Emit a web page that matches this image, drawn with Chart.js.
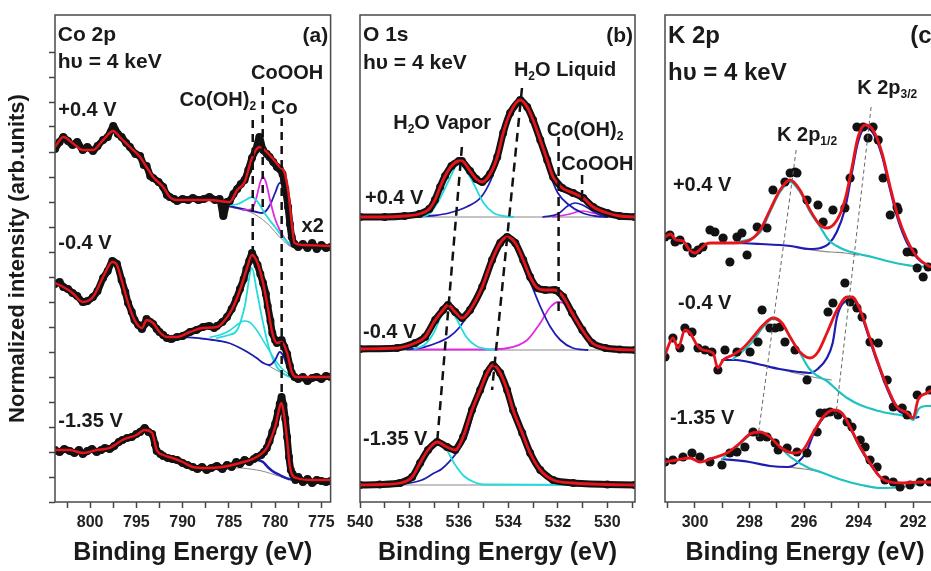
<!DOCTYPE html>
<html>
<head>
<meta charset="utf-8">
<script src="https://cdn.jsdelivr.net/npm/chart.js@4.4.1/dist/chart.umd.min.js"></script>
<style>
  body { margin: 0; background: #fff; width: 931px; height: 571px; overflow: hidden; position: relative; }
  canvas { position: absolute; top: 0; }
</style>
</head>
<body>
<canvas id="chartA" width="340" height="571" style="left:0"></canvas>
<canvas id="chartB" width="310" height="571" style="left:340px"></canvas>
<canvas id="chartC" width="300" height="571" style="left:650px"></canvas>
<script>
// ---- Panel (a) Co 2p : [binding energy eV, intensity] ----
const coTopData = [[803.8,7.06],[803.3,7.20],[802.9,7.30],[802.4,7.22],[801.9,7.14],[801.4,7.20],[800.8,7.04],[800.3,7.10],[799.7,7.02],[799.2,7.12],[798.6,7.24],[798.1,7.30],[797.5,7.52],[797.0,7.36],[796.6,7.30],[796.1,7.18],[795.7,7.10],[795.1,6.96],[794.6,6.92],[794.2,6.74],[793.9,6.72],[793.5,6.52],[793.2,6.48],[792.6,6.40],[792.1,6.30],[791.7,6.14],[791.4,6.10],[790.9,6.06],[790.6,6.02],[790.0,6.06],[789.4,6.04],[788.9,6.08],[788.3,6.04],[787.7,6.06],[787.1,6.10],[786.5,6.04],[786.0,6.06],[785.6,5.72],[785.2,6.00],[784.9,6.02],[784.5,6.16],[784.1,6.26],[783.7,6.36],[783.3,6.44],[782.9,6.64],[782.5,6.88],[782.1,7.04],[781.7,7.30],[781.3,7.04],[780.9,6.96],[780.6,6.90],[780.2,6.80],[779.8,6.70],[779.5,6.66],[779.2,6.56],[778.9,6.26],[778.6,5.90],[778.4,5.56],[778.2,5.30],[777.9,5.16],[777.5,5.10],[777.0,5.16],[776.5,5.08],[776.0,5.18],[775.5,5.06],[775.0,5.14],[774.5,5.08],[774.0,5.10]];
const coTopFit = [[803.8,7.10],[802.9,7.30],[801.9,7.18],[800.8,7.04],[799.7,7.04],[798.6,7.24],[797.5,7.42],[796.8,7.30],[795.7,7.10],[794.6,6.90],[793.9,6.70],[793.2,6.50],[792.1,6.30],[791.4,6.10],[790.6,6.04],[788.9,6.04],[787.1,6.04],[784.9,6.00],[784.1,6.24],[783.3,6.40],[782.5,6.88],[781.7,7.10],[780.6,6.94],[779.5,6.70],[779.0,6.60],[778.6,6.24],[778.2,5.58],[777.9,5.18],[777.0,5.14],[774.0,5.12]];
const coTopBg = [[786.0,5.98],[784.9,5.90],[782.7,5.80],[780.9,5.58],[779.2,5.24],[778.1,5.10],[776.0,5.10]];
const coTopOH = [[786.0,5.98],[785.0,5.94],[784.0,5.96],[783.2,6.04],[782.5,6.10],[781.8,5.98],[781.0,5.74],[780.0,5.50],[779.0,5.26],[778.0,5.12],[777.0,5.10]];
const coTopOOH = [[783.5,5.84],[782.5,5.86],[782.0,6.10],[781.6,6.40],[781.3,6.50],[781.0,6.40],[780.5,6.00],[780.0,5.66],[779.5,5.44],[779.0,5.28],[778.5,5.16],[778.0,5.11]];
const coTopMetal = [[785.0,5.92],[784.0,5.88],[783.0,5.84],[782.0,5.80],[781.5,5.78],[781.0,5.82],[780.5,5.96],[780.0,6.18],[779.5,6.38],[779.2,6.36],[778.9,6.10],[778.5,5.60],[778.2,5.26],[777.8,5.12]];

const coMidData = [[803.8,4.36],[803.3,4.40],[802.9,4.30],[802.4,4.26],[801.9,4.18],[801.4,4.12],[800.8,4.00],[800.3,4.02],[799.7,4.10],[799.2,4.22],[798.6,4.48],[798.1,4.62],[797.6,4.82],[797.1,4.76],[796.6,4.44],[796.2,4.20],[795.9,3.98],[795.5,3.80],[795.2,3.64],[794.8,3.54],[794.4,3.46],[794.1,3.56],[793.9,3.66],[793.5,3.60],[793.2,3.56],[792.8,3.46],[792.5,3.40],[792.1,3.34],[791.7,3.28],[791.2,3.26],[790.6,3.30],[790.0,3.32],[789.2,3.40],[788.5,3.44],[787.8,3.50],[787.1,3.52],[786.6,3.48],[786.3,3.52],[785.7,3.60],[785.2,3.70],[784.7,3.86],[784.2,4.06],[783.8,4.26],[783.4,4.46],[783.1,4.66],[782.8,4.82],[782.5,4.98],[782.2,4.86],[781.9,4.74],[781.6,4.56],[781.3,4.38],[781.0,4.16],[780.8,3.92],[780.5,3.62],[780.3,3.38],[780.0,3.24],[779.8,3.18],[779.5,3.22],[779.3,3.24],[779.0,3.10],[778.7,2.96],[778.4,2.72],[778.2,2.58],[777.9,2.50],[777.5,2.46],[777.0,2.50],[776.5,2.42],[776.0,2.48],[775.5,2.50],[775.0,2.46],[774.5,2.52],[774.0,2.50]];
const coMidFit = [[803.8,4.38],[802.9,4.30],[801.9,4.18],[800.8,4.00],[799.7,4.10],[798.6,4.50],[797.6,4.80],[797.1,4.74],[796.6,4.44],[795.9,3.98],[795.2,3.64],[794.4,3.48],[793.9,3.64],[793.2,3.58],[792.5,3.40],[791.7,3.30],[790.6,3.30],[789.2,3.40],[787.8,3.48],[786.3,3.50],[785.7,3.58],[784.7,3.84],[783.8,4.24],[783.1,4.64],[782.5,4.94],[781.9,4.78],[781.3,4.38],[780.8,3.90],[780.3,3.38],[779.8,3.18],[779.3,3.20],[778.7,2.98],[778.2,2.60],[777.7,2.50],[775.9,2.50],[774.0,2.50]];
const coMidBg = [[790.0,3.30],[788.0,3.27],[786.0,3.22],[785.0,3.18],[784.0,3.10],[783.0,3.00],[782.0,2.88],[781.0,2.76],[780.0,2.65],[779.0,2.56],[778.0,2.50],[776.0,2.50]];
const coMidMetal = [[790.0,3.30],[788.0,3.27],[786.0,3.22],[785.0,3.18],[784.0,3.10],[783.0,3.00],[782.0,2.88],[781.3,2.78],[780.6,2.74],[780.0,2.84],[779.5,3.00],[779.1,2.92],[778.6,2.66],[778.1,2.52],[777.5,2.50]];
const coMidOH = [[786.3,3.28],[785.0,3.34],[784.1,3.44],[783.3,3.90],[782.5,4.68],[782.0,4.24],[781.3,3.58],[780.6,3.04],[779.8,2.70],[779.2,2.58],[778.4,2.50]];
const coMidSat = [[787.0,3.30],[786.0,3.34],[785.0,3.42],[784.0,3.56],[783.4,3.62],[782.8,3.60],[782.0,3.44],[781.0,3.14],[780.0,2.84],[779.0,2.62],[778.0,2.52]];

const coBotData = [[803.8,1.04],[803.3,1.00],[802.8,1.06],[802.2,1.02],[801.7,0.98],[801.2,1.04],[800.8,0.96],[800.3,1.02],[799.8,1.06],[799.3,1.00],[798.8,1.04],[798.4,1.08],[797.9,1.06],[797.4,1.12],[796.9,1.20],[796.5,1.24],[796.0,1.28],[795.5,1.30],[795.0,1.36],[794.6,1.40],[794.1,1.48],[793.7,1.40],[793.3,1.36],[793.0,1.16],[792.8,1.02],[792.4,0.96],[792.1,0.92],[791.6,0.88],[791.1,0.86],[790.6,0.84],[790.0,0.78],[789.5,0.74],[788.9,0.70],[788.4,0.66],[787.9,0.70],[787.4,0.64],[786.9,0.68],[786.3,0.72],[785.7,0.66],[785.2,0.74],[784.7,0.70],[784.2,0.80],[783.8,0.76],[783.3,0.84],[782.8,0.80],[782.3,0.86],[782.0,0.90],[781.5,0.94],[781.2,1.00],[780.9,1.08],[780.6,1.22],[780.3,1.40],[780.0,1.56],[779.7,1.80],[779.5,1.96],[779.3,2.10],[779.1,1.94],[778.9,1.66],[778.7,1.30],[778.5,0.90],[778.3,0.64],[778.1,0.56],[777.8,0.44],[777.5,0.50],[777.0,0.40],[776.5,0.46],[776.0,0.38],[775.5,0.44],[775.0,0.42],[774.5,0.40],[774.0,0.42]];
const coBotFit = [[803.8,1.04],[802.2,1.04],[800.8,0.98],[799.3,1.04],[797.9,1.08],[796.5,1.24],[795.0,1.34],[794.1,1.44],[793.3,1.38],[792.8,1.04],[792.1,0.94],[791.1,0.88],[790.0,0.80],[788.9,0.70],[787.4,0.68],[785.7,0.70],[783.8,0.78],[782.0,0.90],[780.9,1.08],[780.0,1.50],[779.3,1.98],[779.0,1.70],[778.7,1.24],[778.4,0.70],[777.7,0.48],[776.0,0.44],[774.0,0.44]];
const coBotBg = [[786.0,0.68],[784.0,0.68],[782.0,0.64],[781.0,0.60],[780.0,0.54],[779.0,0.48],[778.0,0.45],[776.0,0.44]];
const coBotSat = [[786.0,0.68],[785.0,0.70],[784.0,0.74],[783.0,0.80],[782.0,0.84],[781.3,0.80],[780.8,0.70],[780.3,0.62],[779.5,0.54],[778.5,0.46],[777.5,0.44]];
// dashed markers: [eV start, value start, eV end, value end]
const coGuides = [[782.42,7.64,782.42,4.98],[781.34,8.30,781.34,5.84],[779.29,7.68,779.29,2.08]];

// ---- Panel (b) O 1s ----
const oTopFit = [[540.0,5.70],[539.0,5.70],[538.2,5.72],[537.6,5.76],[537.2,5.86],[536.97,6.04],[536.76,6.30],[536.56,6.52],[536.3,6.72],[536.0,6.82],[535.88,6.82],[535.55,6.62],[535.3,6.46],[535.06,6.40],[534.74,6.56],[534.45,6.90],[534.21,7.38],[533.93,7.78],[533.52,8.04],[533.24,7.90],[533.0,7.64],[532.71,7.24],[532.43,6.84],[532.19,6.50],[531.82,6.28],[531.38,6.18],[530.97,6.08],[530.57,5.90],[530.0,5.78],[529.5,5.72],[528.88,5.70]];
const oTopBase = [[540.0,5.70],[528.88,5.70]];
const oTopVapor = [[537.6,5.70],[537.2,5.76],[536.8,6.04],[536.4,6.44],[536.0,6.78],[535.7,6.62],[535.4,6.36],[535.0,5.98],[534.6,5.78],[534.2,5.72],[533.8,5.70]];
const oTopLiquid = [[538.0,5.70],[537.0,5.73],[536.4,5.78],[535.7,5.90],[535.1,6.10],[534.7,6.45],[534.45,6.82],[534.2,7.32],[533.9,7.74],[533.5,8.00],[533.2,7.86],[533.0,7.60],[532.7,7.16],[532.4,6.70],[532.2,6.40],[532.0,6.18],[531.6,5.96],[531.0,5.78],[530.5,5.72],[530.0,5.70]];
const oTopOH = [[532.6,5.70],[532.0,5.76],[531.6,5.92],[531.3,5.98],[531.0,5.94],[530.6,5.82],[530.2,5.72],[529.8,5.70]];
const oTopOOH = [[532.2,5.70],[531.6,5.75],[531.0,5.82],[530.5,5.77],[530.0,5.72],[529.5,5.70]];

const oMidFit = [[540.0,3.06],[538.5,3.08],[537.77,3.18],[537.37,3.30],[536.96,3.64],[536.64,3.84],[536.44,3.94],[536.15,3.80],[535.87,3.68],[535.55,3.84],[535.06,4.30],[534.66,4.84],[534.33,5.18],[534.05,5.30],[533.72,5.18],[533.4,4.84],[533.12,4.50],[532.83,4.28],[532.51,4.24],[532.11,4.24],[531.78,4.10],[531.42,3.78],[531.01,3.44],[530.61,3.18],[530.08,3.08],[529.5,3.05],[528.88,3.04]];
const oMidBase = [[540.0,3.04],[528.88,3.04]];
const oMidVapor = [[537.8,3.06],[537.4,3.14],[537.0,3.40],[536.7,3.74],[536.45,3.90],[536.1,3.66],[535.7,3.30],[535.3,3.12],[534.9,3.06],[534.5,3.04]];
const oMidLiquid = [[538.1,3.05],[537.4,3.10],[536.8,3.20],[536.4,3.30],[536.0,3.48],[535.5,3.86],[535.06,4.26],[534.66,4.80],[534.33,5.14],[534.05,5.26],[533.72,5.14],[533.5,4.84],[533.1,4.38],[532.7,3.90],[532.3,3.50],[531.9,3.24],[531.4,3.08],[530.8,3.04]];
const oMidOH = [[538.0,3.05],[535.0,3.05],[534.0,3.08],[533.24,3.24],[532.71,3.58],[532.3,3.90],[531.98,4.00],[531.7,3.96],[531.38,3.70],[530.97,3.38],[530.4,3.10],[529.8,3.04]];

const oBotFit = [[540.0,0.34],[539.2,0.35],[538.38,0.38],[537.89,0.50],[537.57,0.78],[537.25,1.04],[536.88,1.20],[536.48,1.10],[536.15,1.04],[535.83,1.30],[535.47,1.84],[535.14,2.24],[534.86,2.58],[534.62,2.74],[534.33,2.58],[534.05,2.24],[533.81,1.84],[533.44,1.38],[533.12,0.98],[532.71,0.64],[532.19,0.44],[531.38,0.38],[530.0,0.35],[528.88,0.34]];
const oBotBase = [[540.0,0.34],[528.88,0.34]];
const oBotVapor = [[538.4,0.35],[538.0,0.42],[537.6,0.64],[537.2,0.98],[536.9,1.16],[536.5,1.04],[536.2,0.78],[535.8,0.52],[535.4,0.40],[535.0,0.35],[530.0,0.34]];
const oBotLiquid = [[538.2,0.36],[537.5,0.44],[537.0,0.58],[536.7,0.66],[536.1,0.98],[535.7,1.30],[535.4,1.80],[535.1,2.22],[534.86,2.56],[534.62,2.72],[534.33,2.56],[534.05,2.22],[533.8,1.82],[533.44,1.36],[533.12,0.96],[532.7,0.62],[532.2,0.42],[531.4,0.36],[530.5,0.34]];
const oGuides = [[535.88,7.10,536.89,1.14],[533.45,8.28,534.66,2.24],[531.97,7.30,531.97,3.78],[531.02,6.54,531.02,5.94]];

// ---- Panel (c) K 2p ----
const kTopData = [[301.10,5.30],[300.92,5.34],[300.73,5.20],[300.55,5.24],[300.29,5.10],[300.07,4.98],[299.89,5.04],[299.71,5.10],[299.45,5.44],[299.27,5.40],[298.97,5.28],[298.72,4.80],[298.46,5.30],[298.28,5.38],[298.09,4.94],[297.72,5.50],[297.36,5.48],[297.14,6.24],[296.70,6.40],[296.51,6.58],[296.33,6.60],[296.26,6.58],[295.89,6.04],[295.49,5.94],[295.30,5.60],[294.94,5.84],[294.50,5.88],[294.31,6.48],[294.06,7.50],[293.83,7.50],[293.65,7.28],[293.47,7.50],[293.28,7.24],[293.10,6.48],[292.84,5.74],[292.59,5.90],[292.55,5.84],[292.22,5.00],[292.00,5.00],[291.85,4.68],[291.63,4.50],[291.45,4.70]];
const kTopFit = [[301.10,5.30],[300.9,5.36],[300.7,5.24],[300.44,5.22],[300.2,5.04],[300.0,4.98],[299.8,5.06],[299.6,5.16],[299.4,5.18],[298.61,5.18],[297.98,5.24],[297.61,5.44],[297.25,5.84],[296.88,6.24],[296.51,6.44],[296.15,6.24],[295.78,5.84],[295.41,5.54],[295.16,5.48],[294.79,5.64],[294.50,6.04],[294.24,6.70],[294.02,7.30],[293.76,7.54],[293.47,7.44],[293.14,6.98],[292.84,6.30],[292.55,5.70],[292.22,5.24],[291.85,4.90],[291.49,4.74],[291.34,4.70],[290.83,4.68]];
const kTopHalf = [[298.6,5.18],[297.6,5.40],[297.25,5.80],[296.88,6.20],[296.51,6.40],[296.15,6.20],[295.78,5.80],[295.41,5.50],[295.1,5.24],[294.8,5.12],[294.5,5.04],[294.0,4.96],[293.5,4.90],[292.8,4.80],[292.0,4.72],[291.3,4.70],[290.83,4.68]];
const kTopThree = [[299.5,5.18],[298.6,5.18],[297.6,5.16],[296.5,5.12],[295.8,5.06],[295.4,5.08],[295.1,5.16],[294.8,5.40],[294.5,5.86],[294.24,6.60],[294.02,7.20],[293.76,7.48],[293.47,7.38],[293.14,6.92],[292.84,6.24],[292.55,5.64],[292.22,5.18],[291.85,4.88],[291.5,4.74],[290.83,4.68]];
const kTopBg = [[296.0,5.06],[295.0,5.00],[294.5,4.98],[294.0,4.94]];

const kMidData = [[301.10,2.90],[300.81,3.28],[300.55,3.08],[300.37,3.48],[300.11,3.40],[299.89,3.08],[299.63,3.04],[299.38,3.00],[299.16,2.64],[298.90,3.04],[298.46,3.00],[297.98,3.00],[297.69,3.20],[297.54,3.84],[297.25,3.48],[297.06,3.48],[296.88,3.50],[296.70,3.20],[296.33,3.04],[295.89,2.44],[295.12,3.80],[294.94,3.98],[294.50,4.38],[294.31,4.00],[294.06,3.88],[293.87,3.70],[293.58,3.20],[293.28,3.18],[292.95,2.44],[292.73,1.90],[292.40,1.88],[292.22,1.74],[291.85,2.14],[291.38,2.24]];
const kMidFit = [[301.10,2.94],[300.81,3.28],[300.62,3.08],[300.37,3.44],[300.18,3.38],[299.93,3.14],[299.71,3.04],[299.34,2.98],[299.16,2.68],[298.97,2.84],[298.61,2.94],[298.24,3.08],[297.87,3.30],[297.50,3.54],[297.14,3.68],[296.81,3.58],[296.51,3.30],[296.15,3.00],[295.78,2.88],[295.49,3.00],[295.16,3.38],[294.79,3.84],[294.42,4.10],[294.24,4.10],[293.94,3.84],[293.65,3.38],[293.32,2.84],[292.95,2.30],[292.59,1.90],[292.22,1.78],[292.00,1.68],[291.82,2.04],[291.49,2.18],[291.30,2.24],[290.83,2.34]];
const kMidHalf = [[298.6,2.86],[297.9,3.20],[297.5,3.50],[297.14,3.66],[296.8,3.56],[296.5,3.28],[296.15,2.98],[295.8,2.66],[295.5,2.52],[295.16,2.42],[294.79,2.24],[294.42,2.08],[293.94,1.94],[293.4,1.84],[292.95,1.78],[292.2,1.70],[292.0,1.64],[291.8,1.86],[291.5,1.92],[290.83,1.92]];
const kMidThree = [[299.0,2.84],[298.5,2.84],[297.7,2.76],[296.9,2.66],[296.2,2.60],[295.8,2.58],[295.5,2.66],[295.16,2.88],[294.95,3.18],[294.79,3.70],[294.42,4.04],[294.24,4.06],[293.94,3.80],[293.65,3.34],[293.32,2.80],[292.95,2.26],[292.59,1.86],[292.22,1.74],[292.0,1.68],[291.8,1.70]];
const kMidBg = [[296.5,2.60],[296.0,2.54],[295.5,2.48],[295.0,2.44]];

const kBotData = [[301.10,0.80],[300.81,0.84],[300.44,0.90],[300.11,0.98],[299.82,0.90],[299.45,0.80],[299.01,0.74],[298.72,0.98],[298.46,1.00],[298.17,1.10],[297.87,1.40],[297.61,1.30],[297.36,1.30],[297.06,1.18],[296.95,1.04],[296.62,1.08],[296.26,1.00],[295.89,0.98],[295.52,1.40],[295.41,1.78],[295.23,1.78],[295.05,1.80],[294.75,1.74],[294.42,1.60],[294.24,1.50],[293.94,1.24],[293.76,1.10],[293.58,0.84],[293.32,0.70],[293.03,0.44],[292.73,0.40],[292.48,0.30],[292.11,0.34],[291.74,0.40],[291.38,0.40]];
const kBotFit = [[301.10,0.80],[300.66,0.84],[300.18,0.88],[299.82,0.80],[299.34,0.88],[298.83,0.98],[298.35,1.18],[297.98,1.36],[297.61,1.40],[297.25,1.30],[296.88,1.10],[296.40,0.98],[296.04,1.04],[295.67,1.38],[295.30,1.70],[294.94,1.84],[294.61,1.78],[294.31,1.50],[293.94,1.10],[293.58,0.78],[293.21,0.50],[292.84,0.40],[292.37,0.38],[291.74,0.40],[290.83,0.40]];
const kBotHalf = [[299.0,0.86],[298.35,1.16],[297.98,1.34],[297.61,1.38],[297.25,1.28],[296.88,1.10],[296.5,0.90],[295.9,0.70],[295.3,0.58],[294.6,0.44],[293.9,0.34],[293.2,0.28],[292.4,0.30],[291.6,0.38],[290.83,0.40]];
const kBotThree = [[299.0,0.86],[298.0,0.80],[297.25,0.72],[296.6,0.70],[296.25,0.78],[295.9,1.02],[295.67,1.34],[295.30,1.68],[294.94,1.82],[294.61,1.76],[294.31,1.48],[293.94,1.08],[293.58,0.76],[293.21,0.50],[292.84,0.40],[292.4,0.38]];
const kBotBg = [[296.6,0.70],[296.0,0.66],[295.5,0.62]];
const kGuides = [[296.29,7.04,297.69,1.30],[293.54,7.90,294.83,1.74]];

// axis ticks
const xTicksA = [802.5,800,797.5,795,792.5,790,787.5,785,782.5,780,777.5,775];
const xLabelsA = [800,795,790,785,780,775];
const yTicksA = [0,0.5,1,1.5,2,2.5,3,3.5,4,4.5,5,5.5,6,6.5,7,7.5,8,8.5,9];
const xTicksB = [540,539,538,537,536,535,534,533,532,531,530,529];
const xLabelsB = [540,538,536,534,532,530];
const xTicksC = [301,300,299,298,297,296,295,294,293,292,291];
const xLabelsC = [300,298,296,294,292];

const F = "'Liberation Sans', Arial, sans-serif";
const RED = '#e8141c', BLUE = '#1d1db2', CYAN = '#22dcdc', MAG = '#e22ce2', TEAL = '#1ec2c2', GRAY = '#8a8a8a', DOT = '#121212';

function pts(a) { return a.map(p => ({x: p[0], y: p[1]})); }
function curve(a, color, width, order) {
  return {data: pts(a), borderColor: color, borderWidth: width, pointRadius: 0, fill: false,
          borderJoinStyle: 'round', borderCapStyle: 'round',
          cubicInterpolationMode: 'monotone', order: order};
}
function band(a) {
  return {data: pts(a), borderColor: DOT, borderWidth: 7, pointRadius: 4, pointBackgroundColor: DOT,
          pointBorderWidth: 0, borderJoinStyle: 'round', tension: 0.2, order: 2};
}
function dots(a) {
  return {data: pts(a), showLine: false, pointRadius: 4.6, pointBackgroundColor: DOT, pointBorderWidth: 0,
          borderColor: DOT, order: 2};
}
function guide(g, color, width, dash) {
  return {data: [{x: g[0], y: g[1]}, {x: g[2], y: g[3]}], borderColor: color, borderWidth: width,
          borderDash: dash, pointRadius: 0, order: 0};
}

// text with optional subscripts: parts = [[text, isSub], ...]
function drawRich(ctx, parts, px, py, align, size) {
  const fonts = parts.map(p => 'bold ' + (p[1] ? Math.round(size * 0.62) : size) + 'px ' + F);
  let w = 0;
  const ws = parts.map((p, i) => { ctx.font = fonts[i]; const m = ctx.measureText(p[0]).width; w += m; return m; });
  let cx = align === 'left' ? px : align === 'right' ? px - w : px - w / 2;
  ctx.textAlign = 'left';
  parts.forEach((p, i) => {
    ctx.font = fonts[i];
    ctx.fillText(p[0], cx, py + (p[1] ? size * 0.34 : 0));
    cx += ws[i];
  });
}

function makeDecor(labels) {
  return {
    id: 'decor',
    afterDatasetsDraw(chart) {
      const {ctx, chartArea: a, scales: {x, y}} = chart;
      ctx.save();
      ctx.strokeStyle = '#4a4a4a';
      ctx.lineWidth = 1.5;
      ctx.strokeRect(a.left, a.top, a.right - a.left, a.bottom - a.top);
      ctx.fillStyle = '#1a1a1a';
      ctx.textBaseline = 'middle';
      labels.forEach(l => drawRich(ctx, l.t, x.getPixelForValue(l.x), y.getPixelForValue(l.y), l.align, l.size));
      ctx.restore();
    }
  };
}

function xScale(min, max, tickVals, labelVals) {
  return {
    type: 'linear', reverse: true, min: min, max: max,
    afterBuildTicks: s => { s.ticks = tickVals.map(v => ({value: v})); },
    afterFit: s => { s.height = 69; },
    ticks: {autoSkip: false, maxRotation: 0, padding: 5, color: '#222',
            font: {family: F, size: 16, weight: 'bold'},
            callback: v => labelVals.includes(v) ? String(v) : ''},
    grid: {drawOnChartArea: false, tickLength: 6, color: '#444', tickWidth: 1.5},
    border: {display: false},
    title: {display: true, text: 'Binding Energy (eV)', color: '#1a1a1a',
            font: {family: F, size: 25, weight: 'bold'}, padding: {top: 0, bottom: 3}}
  };
}

function baseOptions(xs, ys, padding) {
  return {
    responsive: false, animation: false, events: [],
    layout: {padding: padding},
    plugins: {legend: {display: false}, tooltip: {enabled: false}},
    scales: {x: xs, y: ys}
  };
}

// ---- chart (a) ----
const labelsA = [
  {t: [['Co 2p']], x: 803.5, y: 9.34, align: 'left', size: 21},
  {t: [['hυ = 4 keV']], x: 803.5, y: 8.80, align: 'left', size: 21},
  {t: [['(a)']], x: 774.25, y: 9.32, align: 'right', size: 21},
  {t: [['CoOOH']], x: 778.7, y: 8.58, align: 'center', size: 20},
  {t: [['Co(OH)'], ['2', 1]], x: 786.2, y: 8.04, align: 'center', size: 20},
  {t: [['Co']], x: 779.0, y: 7.88, align: 'center', size: 20},
  {t: [['+0.4 V']], x: 803.45, y: 7.84, align: 'left', size: 20},
  {t: [['-0.4 V']], x: 803.45, y: 5.18, align: 'left', size: 20},
  {t: [['-1.35 V']], x: 803.45, y: 1.62, align: 'left', size: 20},
  {t: [['x2']], x: 775.94, y: 5.52, align: 'center', size: 20}
];
new Chart(document.getElementById('chartA'), {
  type: 'line',
  data: {datasets: [
    curve(coTopBg, GRAY, 1, 4), curve(coTopOH, CYAN, 1.8, 3), curve(coTopOOH, MAG, 1.8, 3), curve(coTopMetal, BLUE, 1.8, 3),
    band(coTopData), curve(coTopFit, RED, 2.4, 1),
    curve(coMidBg, GRAY, 1, 4), curve(coMidMetal, BLUE, 1.8, 3), curve(coMidSat, CYAN, 1.5, 3), curve(coMidOH, CYAN, 1.8, 3),
    band(coMidData), curve(coMidFit, RED, 2.4, 1),
    curve(coBotBg, GRAY, 1, 4), curve(coBotSat, BLUE, 2.5, 3),
    band(coBotData), curve(coBotFit, RED, 2.4, 1),
    ...coGuides.map(g => guide(g, '#111', 2.5, [8, 6]))
  ]},
  options: baseOptions(
    xScale(774.0, 803.8, xTicksA, xLabelsA),
    {min: 0, max: 9.74,
     afterBuildTicks: s => { s.ticks = yTicksA.map(v => ({value: v})); },
     afterFit: s => { s.width = 55; },
     ticks: {callback: () => ''},
     grid: {drawOnChartArea: false, tickLength: 6, color: '#444', tickWidth: 1.5},
     border: {display: false},
     title: {display: true, text: 'Normalized intensity (arb.units)', color: '#1a1a1a',
             font: {family: F, size: 22, weight: 'bold'}, padding: {top: 5, bottom: 0}}},
    {left: 0, right: 9, top: 15, bottom: 0}),
  plugins: [makeDecor(labelsA)]
});

// ---- chart (b) ----
const labelsB = [
  {t: [['O 1s']], x: 539.88, y: 9.34, align: 'left', size: 21},
  {t: [['hυ = 4 keV']], x: 539.88, y: 8.78, align: 'left', size: 21},
  {t: [['(b)']], x: 528.96, y: 9.32, align: 'right', size: 21},
  {t: [['H'], ['2', 1], ['O Liquid']], x: 531.71, y: 8.64, align: 'center', size: 20},
  {t: [['H'], ['2', 1], ['O Vapor']], x: 536.68, y: 7.58, align: 'center', size: 20},
  {t: [['Co(OH)'], ['2', 1]], x: 530.9, y: 7.44, align: 'center', size: 20},
  {t: [['CoOOH']], x: 530.4, y: 6.76, align: 'center', size: 20},
  {t: [['+0.4 V']], x: 539.8, y: 6.08, align: 'left', size: 20},
  {t: [['-0.4 V']], x: 539.88, y: 3.40, align: 'left', size: 20},
  {t: [['-1.35 V']], x: 539.88, y: 1.26, align: 'left', size: 20}
];
new Chart(document.getElementById('chartB'), {
  type: 'line',
  data: {datasets: [
    curve(oTopBase, GRAY, 1.2, 4), curve(oTopVapor, CYAN, 1.8, 3), curve(oTopLiquid, BLUE, 1.8, 3),
    curve(oTopOH, BLUE, 1.6, 3), curve(oTopOOH, MAG, 1.6, 3),
    band(oTopFit), curve(oTopFit, RED, 2.8, 1),
    curve(oMidBase, GRAY, 1.2, 4), curve(oMidVapor, CYAN, 1.8, 3), curve(oMidLiquid, BLUE, 1.8, 3), curve(oMidOH, MAG, 1.8, 3),
    band(oMidFit), curve(oMidFit, RED, 2.8, 1),
    curve(oBotBase, GRAY, 1.2, 4), curve(oBotVapor, CYAN, 1.8, 3), curve(oBotLiquid, BLUE, 1.8, 3),
    band(oBotFit), curve(oBotFit, RED, 2.8, 1),
    ...oGuides.map(g => guide(g, '#111', 2.5, [9, 6]))
  ]},
  options: baseOptions(xScale(528.88, 540, xTicksB, xLabelsB), {display: false, min: 0, max: 9.74},
                       {left: 20, right: 15, top: 15, bottom: 0}),
  plugins: [makeDecor(labelsB)]
});

// ---- chart (c) ----
const labelsC = [
  {t: [['K 2p']], x: 300.99, y: 9.32, align: 'left', size: 24},
  {t: [['hυ = 4 keV']], x: 300.99, y: 8.58, align: 'left', size: 24},
  {t: [['(c)']], x: 292.1, y: 9.32, align: 'left', size: 24},
  {t: [['K 2p'], ['3/2', 1]], x: 292.95, y: 8.28, align: 'center', size: 20},
  {t: [['K 2p'], ['1/2', 1]], x: 295.89, y: 7.34, align: 'center', size: 20},
  {t: [['+0.4 V']], x: 300.81, y: 6.34, align: 'left', size: 20},
  {t: [['-0.4 V']], x: 300.62, y: 3.98, align: 'left', size: 20},
  {t: [['-1.35 V']], x: 300.92, y: 1.68, align: 'left', size: 20}
];
new Chart(document.getElementById('chartC'), {
  type: 'line',
  data: {datasets: [
    curve(kTopBg, GRAY, 1.2, 4), curve(kTopHalf, TEAL, 2.2, 3), curve(kTopThree, BLUE, 2.2, 3),
    dots(kTopData), curve(kTopFit, RED, 2.8, 1),
    curve(kMidBg, GRAY, 1.2, 4), curve(kMidHalf, TEAL, 2.2, 3), curve(kMidThree, BLUE, 2.2, 3),
    dots(kMidData), curve(kMidFit, RED, 2.8, 1),
    curve(kBotBg, GRAY, 1.2, 4), curve(kBotHalf, TEAL, 2.2, 3), curve(kBotThree, BLUE, 2.2, 3),
    dots(kBotData), curve(kBotFit, RED, 2.8, 1),
    ...kGuides.map(g => guide(g, '#666', 1, [4, 3]))
  ]},
  options: baseOptions(xScale(290.83, 301.10, xTicksC, xLabelsC), {display: false, min: 0, max: 9.74},
                       {left: 15, right: 5, top: 15, bottom: 0}),
  plugins: [makeDecor(labelsC)]
});
</script>
</body>
</html>
